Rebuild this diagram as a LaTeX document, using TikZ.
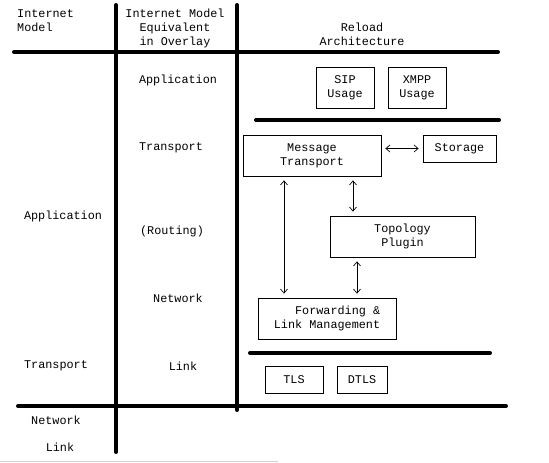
\documentclass[tikz,border=0pt]{standalone}
\usepackage{fontspec}
\setmonofont{Liberation Mono}
\usepackage{tikz}
\usepackage{xcolor}
\usetikzlibrary{arrows.meta}

\begin{document}
\begin{tikzpicture}[x=1pt,y=-1pt,
		txt/.style={font=\ttfamily\fontsize{11.8}{14}\selectfont,inner sep=0pt,align=center},
		box/.style={txt,draw,line width=0.8pt,minimum width=#1},
		layer/.style={line width=4pt,line cap=round},
		link/.style={<->,>={Straight Barb[length=4pt,width=7pt]},line width=0.7pt,shorten <=4pt,shorten >=4pt}]
	\useasboundingbox (0,0) rectangle (549,463);
	% column and layer separators
	\draw[layer] (116,5) -- (116,452);
	\draw[layer] (237,5) -- (237,410);
	\draw[layer] (14,52) -- (498,52);
	\draw[layer] (256,120) -- (499,120);
	\draw[layer] (250,353) -- (490,353);
	\draw[layer] (18,406) -- (506,406);
	\draw[gray!35] (0,461) -- (278,461);
	% headings
	\node[txt,align=left,anchor=west] (hinet) at (17,21) {Internet\\Model};
	\node[txt] (hoverlay) at (175,28) {Internet Model\\Equivalent\\in Overlay};
	\node[txt] (hreload) at (362,34) {Reload\\Architecture};
	% internet model
	\node[txt] (iapp) at (63,216) {Application};
	\node[txt] (itrans) at (56,366) {Transport};
	\node[txt] (inet) at (56,420) {Network};
	\node[txt] (ilink) at (60,447) {Link};
	% overlay equivalent
	\node[txt] (oapp) at (178,80) {Application};
	\node[txt] (otrans) at (171,148) {Transport};
	\node[txt] (orout) at (172,231) {(Routing)};
	\node[txt] (onet) at (178,298) {Network};
	\node[txt] (olink) at (183,366) {Link};
	% reload architecture
	\node[box=58pt,minimum height=41pt] (sip) at (345,87.5) {SIP\\Usage};
	\node[box=58pt,minimum height=41pt] (xmpp) at (417,87.5) {XMPP\\Usage};
	\node[box=138pt,minimum height=41pt] (msg) at (312,155.5) {Message\\Transport};
	\node[box=73pt,minimum height=27pt] (stor) at (459.5,148.5) {Storage};
	\node[box=145pt,minimum height=41pt] (topo) at (402.5,236.5) {Topology\\Plugin};
	\node[box=138pt,minimum height=41pt,align=right] (fwd) at (327,318.5) {Forwarding \&\\Link Management};
	\node[box=58pt,minimum height=27pt] (tls) at (294,379.5) {TLS};
	\node[box=50pt,minimum height=27pt] (dtls) at (362,379.5) {DTLS};
	% connectors
	\draw[link] (msg.east |- stor.west) -- (stor.west);
	\draw[link] (284,0 |- msg.south) -- (284,0 |- fwd.north);
	\draw[link] (353,0 |- msg.south) -- (353,0 |- topo.north);
	\draw[link] (357,0 |- topo.south) -- (357,0 |- fwd.north);
\end{tikzpicture}
\end{document}
